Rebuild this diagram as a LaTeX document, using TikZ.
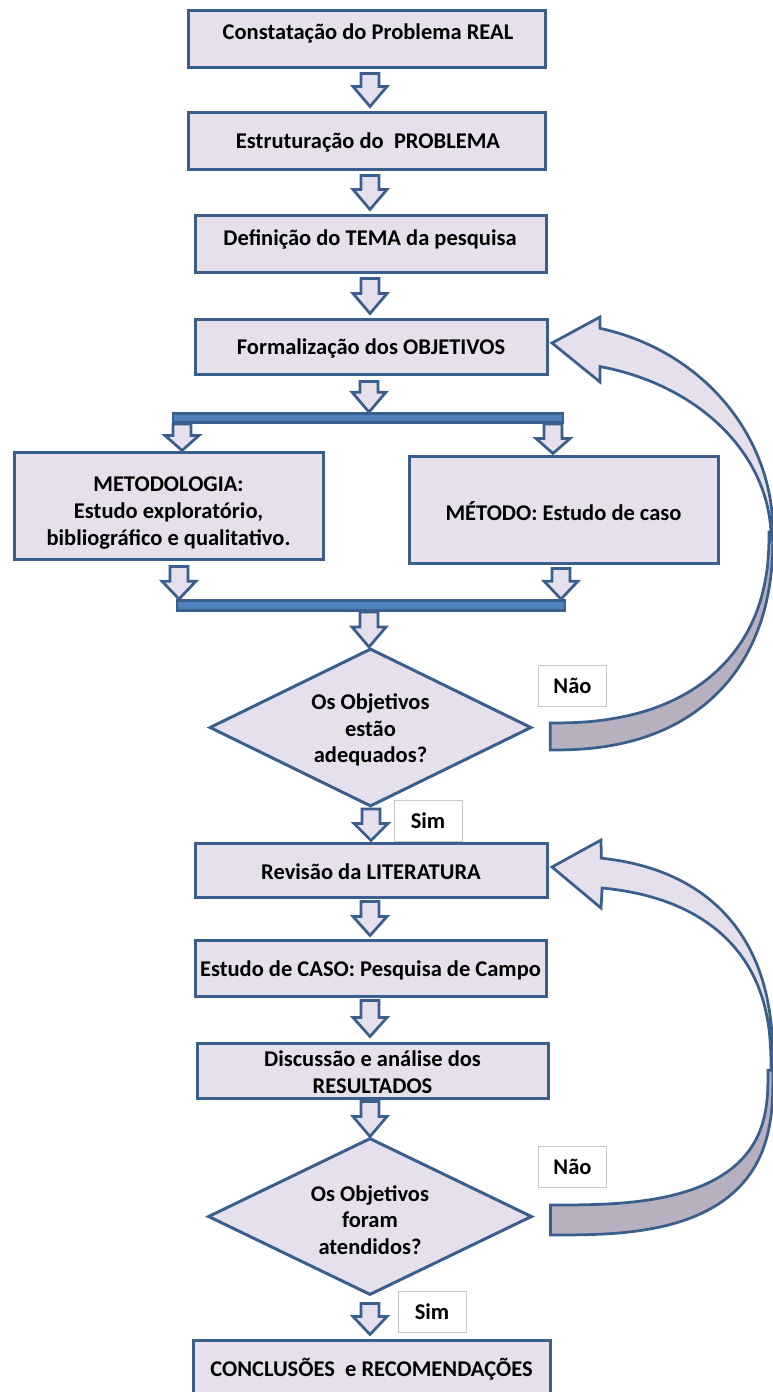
\documentclass[tikz,border=0pt]{standalone}
\usepackage{fontspec}
\setmainfont{Carlito}
\usetikzlibrary{shapes.geometric,calc}
\definecolor{lav}{HTML}{E5E0EC}
\definecolor{bord}{HTML}{3A5F8C}
\definecolor{backg}{HTML}{B7B0BE}
\definecolor{barin}{HTML}{4F81BD}
\definecolor{lblb}{HTML}{C8C8C8}
\newcommand{\blkarrow}[4]{\filldraw[blk] let \p1=#2, \p2=#3 in
  (#1pt-9pt,\y1) -- (#1pt+9pt,\y1) -- (#1pt+9pt,\y2+#4pt) -- (#1pt+17pt,\y2+#4pt) --
  (#1pt,\y2) -- (#1pt-17pt,\y2+#4pt) -- (#1pt-9pt,\y2+#4pt) -- cycle;}
\begin{document}
\begin{tikzpicture}[x=1pt, y=-1pt,
  box/.style={draw=bord, fill=lav, line width=3pt, inner sep=0pt, rectangle},
  dia/.style={draw=bord, fill=lav, line width=3pt, inner sep=0pt, diamond},
  txt/.style={font=\fontsize{22.5}{26.8}\selectfont\bfseries, align=center, inner sep=0pt},
  blk/.style={draw=bord, fill=lav, line width=2.75pt, line join=miter},
  barbox/.style={draw=bord, fill=barin, line width=2.75pt, inner sep=0pt, rectangle},
  lbl/.style={draw=lblb, fill=white, line width=1pt, minimum width=68pt, minimum height=41pt, inner sep=0pt, font=\fontsize{22.5}{26.8}\selectfont\bfseries}]
\useasboundingbox (0,0) rectangle (773,1392);
\clip (0,0) rectangle (773,1392);

% curved return arrow 1
\filldraw[blk, fill=backg]
  plot[domain=0.01:89.99, samples=50] ({550+223*(cos(\x))^0.85},{532+218*(sin(\x))^0.85})
  -- plot[domain=89.99:0.01, samples=50] ({550+219*(cos(\x))^0.85},{532+191*(sin(\x))^0.85}) -- cycle;
\filldraw[blk] (552,343) -- (600,317)
  -- plot[domain=77.04:0, samples=50] ({550+223*cos(\x)},{532-209*sin(\x)})
  -- plot[domain=0:76.9, samples=50] ({550+221*cos(\x)},{538-176*sin(\x)})
  -- (600,382) -- cycle;

% curved return arrow 2
\filldraw[blk, fill=backg]
  plot[domain=0.01:89.99, samples=50] ({550+223*(cos(\x))^0.7},{1070+165*(sin(\x))^0.7})
  -- plot[domain=89.99:0.01, samples=50] ({550+218*(cos(\x))^0.7},{1070+135*(sin(\x))^0.7}) -- cycle;
\filldraw[blk] (552,867) -- (601,840)
  -- plot[domain=80.9:0.01, samples=50] ({550+223*(cos(\x))^0.8},{1070-214*(sin(\x))^0.8})
  -- plot[domain=0.01:80.6, samples=50] ({550+221*(cos(\x))^0.8},{1070-184*(sin(\x))^0.8})
  -- (601,908) -- cycle;

% boxes
\node[box, minimum width=357pt, minimum height=57pt] (b1) at (366.5,38.5) {};
\node[txt] (t1) at (368,33) {Constatação do Problema REAL};
\node[box, minimum width=357pt, minimum height=57pt] (b2) at (366.5,140.5) {};
\node[txt] (t2) at (368,142.5) {Estruturação do~ PROBLEMA};
\node[box, minimum width=351pt, minimum height=57pt] (b3) at (370.5,243.5) {};
\node[txt] (t3) at (370,239.5) {Definição do TEMA da pesquisa};
\node[box, minimum width=352pt, minimum height=55pt] (b4) at (371,346.5) {};
\node[txt] (t4) at (371,348.5) {Formalização dos OBJETIVOS};

\node[barbox, minimum width=390pt, minimum height=9pt] (bar1) at (368,418) {};

\node[box, minimum width=309pt, minimum height=107pt] (b5) at (168.5,505.5) {};
\node[txt] (t5) at (168.5,513) {METODOLOGIA:\\Estudo exploratório,\\bibliográfico e qualitativo.};
\node[box, minimum width=309pt, minimum height=107pt] (b6) at (563.5,509.5) {};
\node[txt] (t6) at (563.5,511.5) {MÉTODO: Estudo de caso};

\node[barbox, minimum width=388pt, minimum height=10pt] (bar2) at (371,605.5) {};

\node[dia, minimum width=322pt, minimum height=158pt] (d1) at (370.5,727.5) {};
\node[txt] (td1) at (370.5,730) {Os Objetivos\\estão\\adequados?};
\node[lbl] (n1) at (572.5,686) {Não};
\node[lbl] (s1) at (428,821) {Sim};

\node[box, minimum width=352pt, minimum height=54pt] (b8) at (371,870) {};
\node[txt] (t8) at (371,871.5) {Revisão da LITERATURA};
\node[box, minimum width=351pt, minimum height=56pt] (b9) at (370.5,968) {};
\node[txt] (t9) at (370.5,970.5) {Estudo de CASO: Pesquisa de Campo};
\node[box, minimum width=351pt, minimum height=55pt] (b10) at (372.5,1070.5) {};
\node[txt] (t10) at (372.5,1072) {Discussão e análise dos\\RESULTADOS};

\node[dia, minimum width=324pt, minimum height=157pt] (d2) at (370,1216.5) {};
\node[txt] (td2) at (370,1220) {Os Objetivos\\foram\\atendidos?};
\node[lbl] (n2) at (572.5,1167) {Não};
\node[lbl] (s2) at (432,1312) {Sim};

\node[box, minimum width=357pt, minimum height=60pt] (b12) at (371.5,1370) {};
\node[txt] (t12) at (371.5,1369.5) {CONCLUSÕES~ e RECOMENDAÇÕES};

% block arrows
\blkarrow{370}{($(b1.south)+(0,5)$)}{($(b2.north)+(0,-4)$)}{20}
\blkarrow{370}{($(b2.south)+(0,5)$)}{($(b3.north)+(0,-4)$)}{20}
\blkarrow{370}{($(b3.south)+(0,5)$)}{($(b4.north)+(0,-4)$)}{20}
\blkarrow{369}{($(b4.south)+(0,6)$)}{(bar1.north)}{20}
\blkarrow{182}{(bar1.south)}{(b5.north)}{15}
\blkarrow{553}{(bar1.south)}{($(b6.north)+(0,-1)$)}{15}
\blkarrow{179}{($(b5.south)+(0,6)$)}{(bar2.north)}{18}
\blkarrow{561}{($(b6.south)+(0,4)$)}{(bar2.north)}{18}
\blkarrow{369}{(bar2.south)}{(d1.north)}{20}
\blkarrow{371}{($(d1.south)+(0,1)$)}{($(b8.north)+(0,-1)$)}{17}
\blkarrow{370}{($(b8.south)+(0,3)$)}{($(b9.north)+(0,-3)$)}{19}
\blkarrow{370}{($(b9.south)+(0,3)$)}{($(b10.north)+(0,-5)$)}{19}
\blkarrow{370}{($(b10.south)+(0,2)$)}{(d2.north)}{20}
\blkarrow{370}{($(d2.south)+(0,7)$)}{($(b12.north)+(0,-4)$)}{18}
\end{tikzpicture}
\end{document}
